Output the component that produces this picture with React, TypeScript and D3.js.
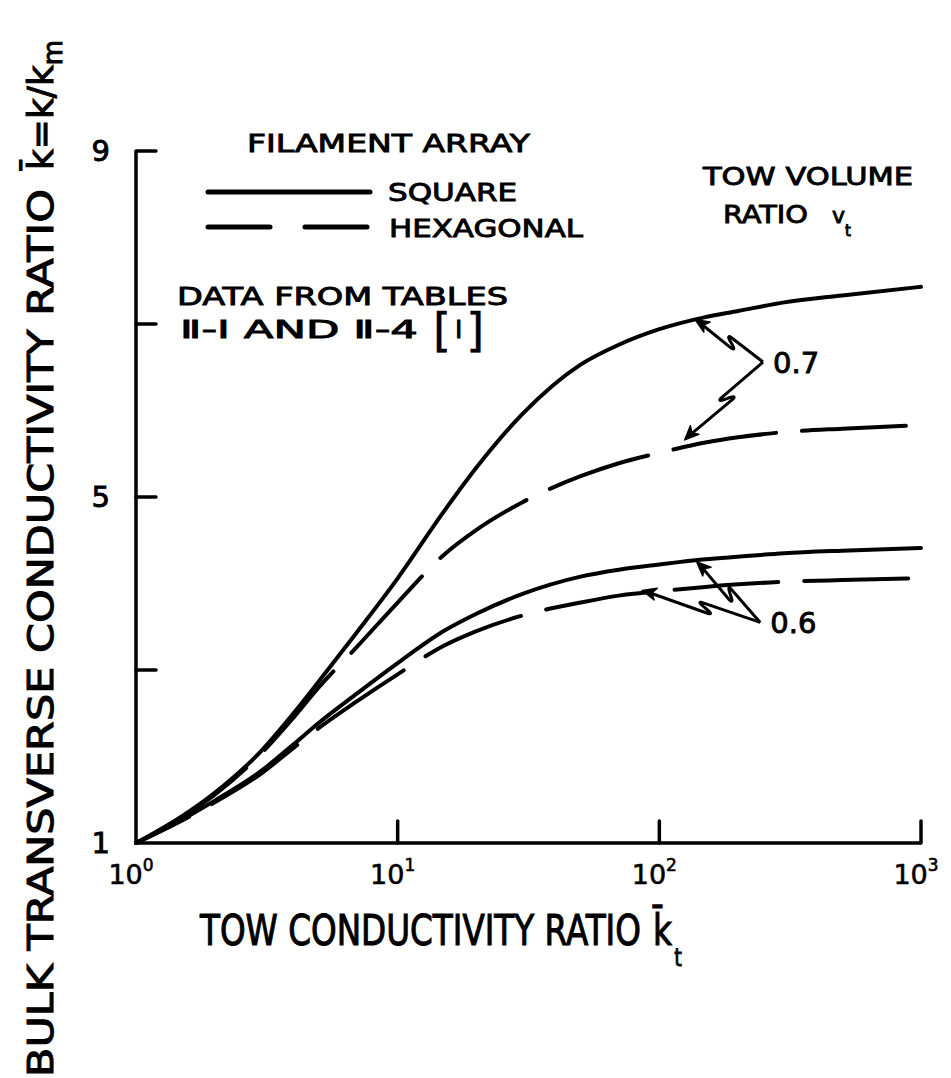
import React, { useEffect, useRef } from "react";
import * as d3 from "d3";

// ---- data ----
const KT = [1, 1.5, 2, 3, 4, 5, 7, 10, 15, 20, 30, 50, 70, 100, 150, 200, 300, 500, 1000];
const SQUARE_07 = [1, 1.31, 1.58, 2.06, 2.5, 2.87, 3.44, 4.06, 4.83, 5.34, 5.96, 6.53, 6.76, 6.94, 7.08, 7.15, 7.25, 7.33, 7.43];
const HEX_07 = [1, 1.3, 1.56, 2.03, 2.45, 2.8, 3.27, 3.78, 4.33, 4.62, 4.94, 5.24, 5.39, 5.51, 5.63, 5.69, 5.75, 5.79, 5.83];
const SQUARE_06 = [1, 1.27, 1.49, 1.83, 2.14, 2.39, 2.73, 3.08, 3.45, 3.65, 3.88, 4.08, 4.16, 4.22, 4.28, 4.31, 4.35, 4.38, 4.41];
const HEX_06 = [1, 1.26, 1.47, 1.8, 2.1, 2.33, 2.64, 2.95, 3.28, 3.45, 3.63, 3.78, 3.86, 3.91, 3.96, 3.99, 4.02, 4.04, 4.06];

const X_TICKS = [1, 10, 100, 1000];
const X_TICK_EXP = ["0", "1", "2", "3"];
const Y_TICKS = [3, 5, 7, 9];
const Y_LABELS = [1, 5, 9];

// annotation anchors in data space: label point and arrow tips
const ANNOTATIONS = [
  { label: "0.7", at: [249, 6.56], tips: [[137, 7.05], [125, 5.66]] },
  { label: "0.6", at: [243, 3.55], tips: [[139, 4.25], [86, 3.92]] },
];

// kt where a dash gap is centred, for each hexagonal curve
const HEX_GAP_KT = { hex07: 13.4, hex06: 11.6 };

const FONT = "'DejaVu Sans', 'Liberation Sans', sans-serif";
const W = 951;
const H = 1078;
const DASH = 104;
const GAP = 26;

const x = d3.scaleLog().domain([1, 1000]).range([136, 921]);
const y = d3.scaleLinear().domain([1, 9]).range([843, 151]);

const series = [
  { id: "sq07", values: SQUARE_07, dashed: false },
  { id: "hex07", values: HEX_07, dashed: true },
  { id: "sq06", values: SQUARE_06, dashed: false },
  { id: "hex06", values: HEX_06, dashed: true },
];

const line = d3
  .line<[number, number]>()
  .x((d) => x(d[0]))
  .y((d) => y(d[1]))
  .curve(d3.curveMonotoneX);

function lightning(ax: number, ay: number, bx: number, by: number) {
  const dx = bx - ax;
  const dy = by - ay;
  const L = Math.hypot(dx, dy);
  const ux = dx / L;
  const uy = dy / L;
  const nx = -uy;
  const ny = ux;
  const p1 = [ax + ux * L * 0.5 + nx * 4, ay + uy * L * 0.5 + ny * 4];
  const p2 = [ax + ux * L * 0.43 - nx * 5, ay + uy * L * 0.43 - ny * 5];
  const ex = bx - ux * 4;
  const ey = by - uy * 4;
  return `M${ax},${ay} L${p1[0]},${p1[1]} Q${p1[0] + ux * 6},${p1[1] + uy * 6} ${(p1[0] + p2[0]) / 2},${(p1[1] + p2[1]) / 2} Q${p2[0] - ux * 6},${p2[1] - uy * 6} ${p2[0]},${p2[1]} L${ex},${ey}`;
}

function arrowHead(ax: number, ay: number, bx: number, by: number) {
  const dx = bx - ax;
  const dy = by - ay;
  const L = Math.hypot(dx, dy);
  const ux = dx / L;
  const uy = dy / L;
  const nx = -uy;
  const ny = ux;
  const len = 14;
  const wid = 6;
  const bxx = bx - ux * len;
  const byy = by - uy * len;
  return `M${bx},${by} L${bxx + nx * wid},${byy + ny * wid} L${bxx + ux * 4},${byy + uy * 4} L${bxx - nx * wid},${byy - ny * wid} Z`;
}

const T = { fill: "#000", stroke: "#000", strokeWidth: 0.9 };

export default function App() {
  const refs = useRef<Record<string, SVGPathElement | null>>({});

  useEffect(() => {
    (Object.keys(HEX_GAP_KT) as Array<keyof typeof HEX_GAP_KT>).forEach((id) => {
      const p = refs.current[id];
      if (!p) return;
      const total = p.getTotalLength();
      const gx = x(HEX_GAP_KT[id]);
      let lo = 0;
      let hi = total;
      for (let i = 0; i < 40; i++) {
        const mid = (lo + hi) / 2;
        if (p.getPointAtLength(mid).x < gx) lo = mid;
        else hi = mid;
      }
      const period = DASH + GAP;
      let off = (DASH + GAP / 2 - lo) % period;
      if (off < 0) off += period;
      p.setAttribute("stroke-dashoffset", String(off));
    });
  }, []);

  const X0 = x(1);
  const X1 = x(1000);
  const Y0 = y(1);
  const YT = y(9);

  return (
    <svg
      width={W}
      height={H}
      style={{ position: "absolute", left: 0, top: 0, background: "#fff" }}
      fontFamily={FONT}
    >
      <rect x={0} y={0} width={W} height={H} fill="#fff" />
      {/* axes */}
      <path
        d={`M${X0},${YT} L${X0},${Y0} L${X1},${Y0}`}
        fill="none"
        stroke="#000"
        strokeWidth={3.5}
      />
      {Y_TICKS.map((t) => (
        <line key={"yt" + t} x1={X0} x2={X0 + 20} y1={y(t)} y2={y(t)} stroke="#000" strokeWidth={3.5} strokeLinecap="round" />
      ))}
      {X_TICKS.slice(1).map((t) => (
        <line key={"xt" + t} x1={x(t)} x2={x(t)} y1={Y0} y2={Y0 - 22} stroke="#000" strokeWidth={3.5} strokeLinecap="round" />
      ))}
      {Y_LABELS.map((t) => (
        <text key={"yl" + t} x={110} y={y(t) + 10} textAnchor="end" fontSize={29} {...T}>
          {t}
        </text>
      ))}
      {X_TICKS.map((t, i) => (
        <text key={"xl" + t} x={x(t) - 5} y={884} textAnchor="middle" fontSize={27} {...T} strokeWidth={0.6}>
          10
          <tspan fontSize={17} dy={-13}>
            {X_TICK_EXP[i]}
          </tspan>
        </text>
      ))}

      {/* axis titles */}
      <g transform="translate(53,1077) rotate(-90)">
        <text x={0} y={0} fontSize={36} textLength={888} lengthAdjust="spacingAndGlyphs" {...T} strokeWidth={1}>
          BULK TRANSVERSE CONDUCTIVITY RATIO
        </text>
        <text x={907} y={0} fontSize={36} textLength={130} lengthAdjust="spacingAndGlyphs" {...T} strokeWidth={1}>
          {"k\u0304=k/k"}
          <tspan fontSize={26} dy={9}>
            m
          </tspan>
        </text>
      </g>
      <g transform="translate(200,945) scale(0.777,1)">
        <text x={0} y={0} fontSize={42} {...T} strokeWidth={1.1}>
          TOW CONDUCTIVITY RATIO
          <tspan x={583}>{"k\u0304"}</tspan>
          <tspan fontSize={25} dx={3} dy={21} strokeWidth={0.9}>
            t
          </tspan>
        </text>
      </g>

      {/* curves */}
      {series.map((s) => (
        <path
          key={s.id}
          ref={(el) => {
            refs.current[s.id] = el;
          }}
          d={line(KT.map((k, i) => [k, s.values[i]] as [number, number])) || ""}
          fill="none"
          stroke="#000"
          strokeWidth={4}
          strokeLinecap="round"
          strokeDasharray={s.dashed ? `${DASH} ${GAP}` : undefined}
        />
      ))}

      {/* legend */}
      <text x={247} y={152} fontSize={25} textLength={283} lengthAdjust="spacingAndGlyphs" {...T}>
        FILAMENT ARRAY
      </text>
      <line x1={208} x2={370} y1={192} y2={192} stroke="#000" strokeWidth={5} strokeLinecap="round" />
      <text x={388} y={201} fontSize={25} textLength={129} lengthAdjust="spacingAndGlyphs" {...T}>
        SQUARE
      </text>
      <line x1={208} x2={370} y1={227} y2={227} stroke="#000" strokeWidth={5} strokeLinecap="round" strokeDasharray="62 35" />
      <text x={389} y={237} fontSize={25} textLength={194} lengthAdjust="spacingAndGlyphs" {...T}>
        HEXAGONAL
      </text>
      <text x={177} y={305} fontSize={25} textLength={331} lengthAdjust="spacingAndGlyphs" {...T}>
        DATA FROM TABLES
      </text>
      <text x={180} y={338} fontSize={25} textLength={238} lengthAdjust="spacingAndGlyphs" {...T}>
        {"\u2161-I AND \u2161-4"}
      </text>
      <text x={433} y={346} fontSize={46} {...T} strokeWidth={0.5}>
        [
        <tspan fontSize={25} dx={4} dy={-8} strokeWidth={0.9}>
          I
        </tspan>
        <tspan dx={4} dy={8} strokeWidth={0.5}>
          ]
        </tspan>
      </text>

      <text x={703} y={185} fontSize={25} textLength={210} lengthAdjust="spacingAndGlyphs" {...T}>
        TOW VOLUME
      </text>
      <text x={723} y={223} fontSize={25} textLength={85} lengthAdjust="spacingAndGlyphs" {...T}>
        RATIO
      </text>
      <text x={832} y={223} fontSize={22} {...T}>
        v
        <tspan fontSize={15} dy={13}>
          t
        </tspan>
      </text>

      {/* annotations */}
      {ANNOTATIONS.map((a) => {
        const ax = x(a.at[0]);
        const ay = y(a.at[1]);
        return (
          <g key={a.label}>
            {a.tips.map((t, i) => {
              const bx = x(t[0]);
              const by = y(t[1]);
              return (
                <g key={i}>
                  <path d={lightning(ax, ay, bx, by)} fill="none" stroke="#000" strokeWidth={3} strokeLinejoin="round" />
                  <path d={arrowHead(ax, ay, bx, by)} fill="#000" stroke="#000" strokeWidth={1.5} strokeLinejoin="round" />
                </g>
              );
            })}
            <text x={ax + 10} y={ay + 11} fontSize={29} {...T}>
              {a.label}
            </text>
          </g>
        );
      })}
    </svg>
  );
}
